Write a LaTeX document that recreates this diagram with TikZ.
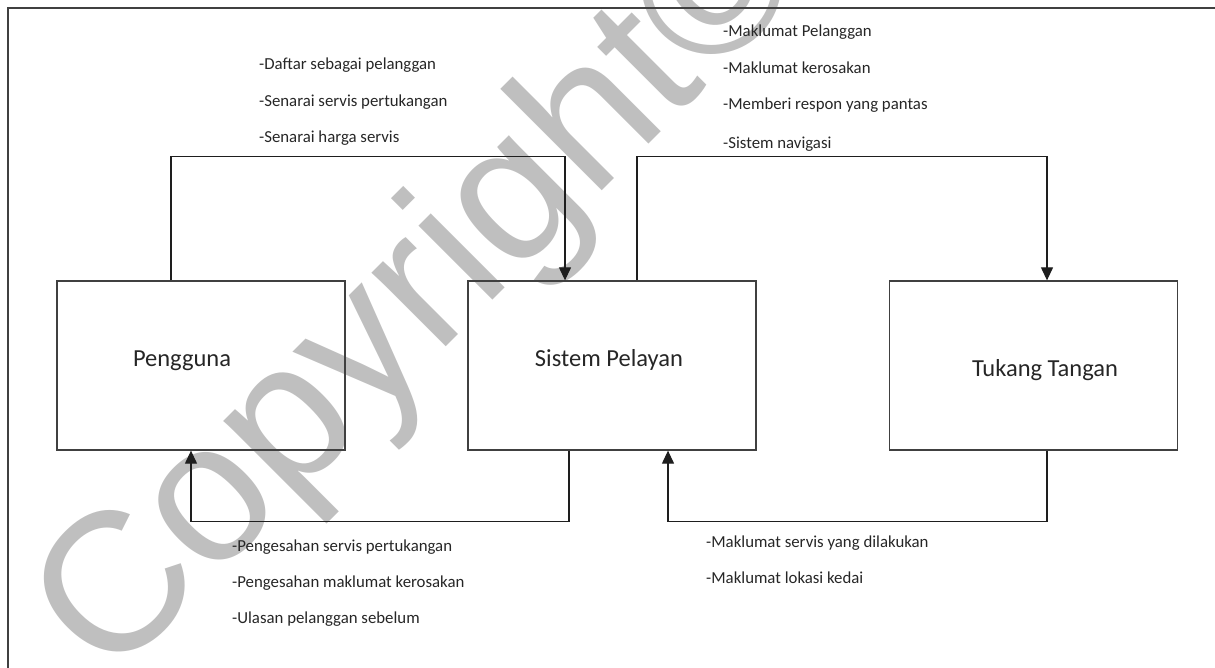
\documentclass[tikz,border=0pt]{standalone}
\usepackage{fontspec}
\setmainfont{Carlito}
\newfontfamily\markfont{Liberation Sans}
\usepackage{tikz}
\usetikzlibrary{arrows.meta,positioning}
\definecolor{boxGray}{RGB}{64,64,64}
\definecolor{lineDark}{RGB}{30,30,30}
\definecolor{markGray}{RGB}{191,191,191}
\tikzset{
  unit/.style={draw=boxGray, line width=1.3pt, minimum width=288pt, minimum height=169pt, inner sep=0pt},
  unitlabel/.style={inner sep=0pt, text=black!85, font=\fontsize{24.5}{28}\selectfont},
  flow/.style={draw=lineDark, line width=1.2pt, -{Triangle[width=12pt,length=13pt]}},
  flowtext/.style={anchor=base west, inner sep=0pt, text=black!85, font=\fontsize{16.8}{20}\selectfont},
}

\begin{document}
\begin{tikzpicture}[x=1pt, y=-1pt]
    \useasboundingbox (0,0) rectangle (1215,668);

    % watermark
    \node[text=markGray, rotate=45, anchor=base, inner sep=0pt,
          font=\markfont\fontsize{198}{198}\selectfont] (mark) at (461,332) {Copyright©};

    % frame
    \draw[boxGray, line width=1.5pt] (8,668) -- (8,8) -- (1215,8);

    % units
    \node[unit] (pengguna) at (201,365.5) {};
    \node[unit] (sistem)   at (612,365.5) {};
    \node[unit] (tukang)   at (1033.5,365.5) {};
    \node[unitlabel] (penggunaTxt) at ([xshift=-19pt,yshift=5pt]pengguna.center) {Pengguna};
    \node[unitlabel] (sistemTxt)   at ([xshift=-3pt,yshift=5.5pt]sistem.center) {Sistem Pelayan};
    \node[unitlabel] (tukangTxt)   at ([xshift=11.5pt,yshift=-4.5pt]tukang.center) {Tukang Tangan};

    % flows over the top
    \draw[flow] ([xshift=-30pt]pengguna.north) -- ++(0,-124) -| ([xshift=-47pt]sistem.north);
    \draw[flow] ([xshift=25pt]sistem.north) -- ++(0,-124) -| ([xshift=13.5pt]tukang.north);

    % flows underneath
    \draw[flow] ([xshift=-43pt]sistem.south) -- ++(0,71) -| ([xshift=-10pt]pengguna.south);
    \draw[flow] ([xshift=13.5pt]tukang.south) -- ++(0,71) -| ([xshift=56pt]sistem.south);

    % flow texts
    \node[flowtext] (daftar)  at (259,70)  {-Daftar sebagai pelanggan};
    \node[flowtext] (senarai) at (259,107) {-Senarai servis pertukangan};
    \node[flowtext] (harga)   at (259,143) {-Senarai harga servis};

    \node[flowtext] (infoPel) at (723,37)  {-Maklumat Pelanggan};
    \node[flowtext] (infoRos) at (723,74)  {-Maklumat kerosakan};
    \node[flowtext] (respon)  at (723,110) {-Memberi respon yang pantas};
    \node[flowtext] (navi)    at (723,149) {-Sistem navigasi};

    \node[flowtext] (sahServ) at (232,551) {-Pengesahan servis pertukangan};
    \node[flowtext] (sahRos)  at (232,587) {-Pengesahan maklumat kerosakan};
    \node[flowtext] (ulasan)  at (232,623) {-Ulasan pelanggan sebelum};

    \node[flowtext] (infoServ) at (706,547) {-Maklumat servis yang dilakukan};
    \node[flowtext] (lokasi)   at (706,583) {-Maklumat lokasi kedai};
\end{tikzpicture}
\end{document}
